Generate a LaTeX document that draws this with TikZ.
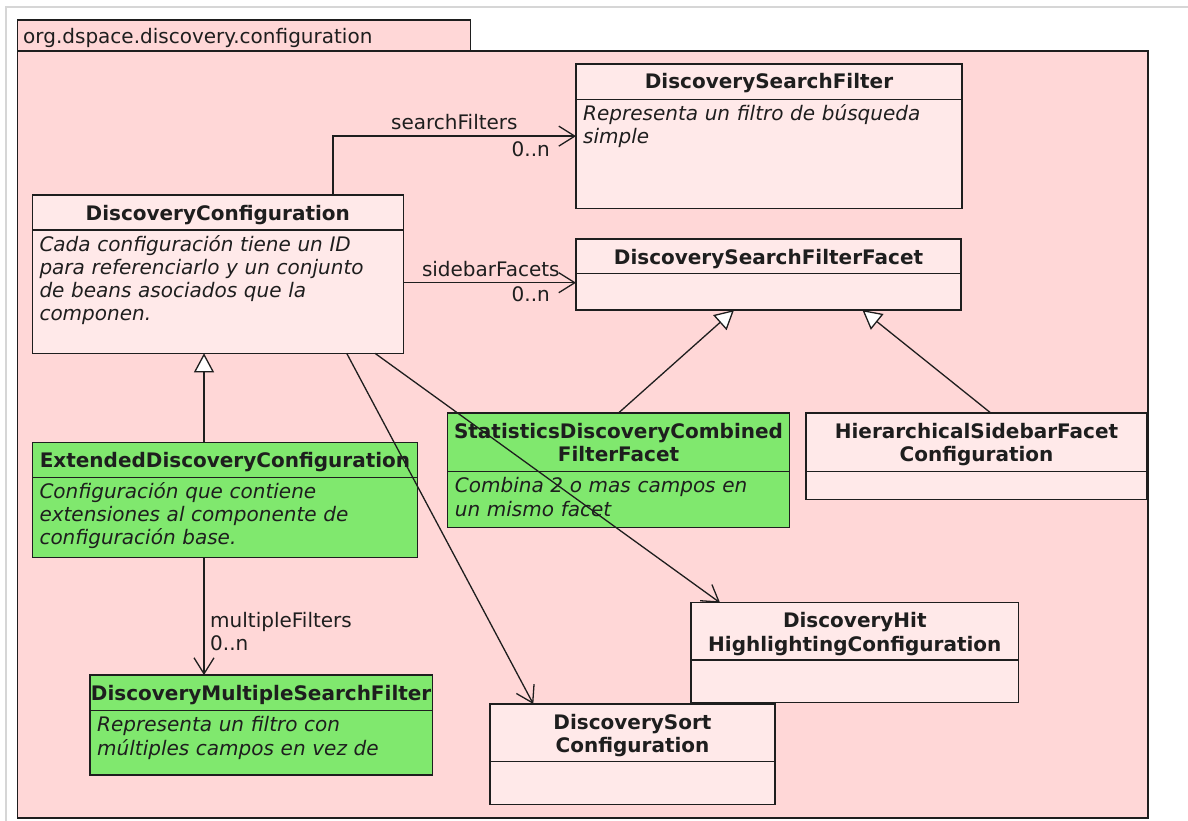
\documentclass[tikz,border=0pt]{standalone}
\usepackage{fontspec}
\setmainfont{DejaVu Sans}
\usetikzlibrary{arrows.meta}

\definecolor{pkgfill}{RGB}{255,215,215}
\definecolor{clsfill}{RGB}{255,233,233}
\definecolor{extfill}{RGB}{128,232,110}
\definecolor{ink}{RGB}{30,30,30}
\definecolor{framegray}{RGB}{214,214,214}

\tikzset{
  boxline/.style={draw=ink, line width=1.4pt},
  classbox/.style={boxline, rectangle, anchor=north west, inner sep=0pt, outer sep=0pt},
  titletext/.style={anchor=base, inner sep=0pt, align=center, text=ink,
    font=\fontsize{20}{23.3}\selectfont\bfseries},
  bodytext/.style={anchor=base west, inner sep=0pt, align=left, text=ink,
    font=\fontsize{20}{23.3}\selectfont\itshape},
  roletext/.style={inner sep=0pt, text=ink, font=\fontsize{20}{23.3}\selectfont},
  assoc/.style={draw=ink, line width=1.3pt, -{Straight Barb[length=16pt,width=20pt]}},
  generalize/.style={draw=ink, line width=1.3pt, -{Triangle[length=19pt,width=20pt,fill=white]}},
}

% UML class: name, x1, y1, x2, y2, separator y, fill, title, body
\newcommand\umlclass[9]{%
  \node[classbox, fill=#7, minimum width={#4-#2}, minimum height={#5-#3}] (#1) at (#2,#3) {};
  \draw[boxline] (#2,#6) -- (#4,#6);
  \node[titletext, text width={#4-#2+30}] (#1-title) at ({(#2+#4)/2},#3+25) {#8};
  \if\relax\detokenize{#9}\relax\else
    \node[bodytext, text width={#4-#2}] (#1-body) at (#2+7,#6+21) {#9};
  \fi
}

\begin{document}
\begin{tikzpicture}[x=1pt,y=-1pt]
  \useasboundingbox (0,0) rectangle (1188,821);
  \fill[white] (0,0) rectangle (1188,821);

  % window frame
  \draw[framegray, line width=1.2pt] (6,821) -- (6,7) -- (1188,7);

  % package
  \draw[boxline, fill=pkgfill] (17.5,20) rectangle (470.5,51);
  \draw[boxline, fill=pkgfill] (17.5,51) rectangle (1148,818);
  \node[roletext, anchor=base west] (pkgname) at (23,43.3) {org.dspace.discovery.configuration};

  % classes
  \umlclass{dsf}{576}{64}{962}{208.3}{99.3}{clsfill}{DiscoverySearchFilter}
    {Representa un filtro de búsqueda\\simple}
  \umlclass{dc}{32.3}{195}{403.3}{353.3}{230}{clsfill}{DiscoveryConfiguration}
    {Cada configuración tiene un ID\\para referenciarlo y un conjunto\\de beans asociados que la\\componen.}
  \umlclass{dsff}{576}{239}{961}{310}{273.3}{clsfill}{DiscoverySearchFilterFacet}{}
  \umlclass{stat}{447.7}{413}{789.3}{527.7}{471.7}{extfill}{StatisticsDiscoveryCombined\\FilterFacet}
    {Combina 2 o mas campos en\\un mismo facet}
  \umlclass{hier}{806}{413}{1147}{499.3}{471.7}{clsfill}{HierarchicalSidebarFacet\\Configuration}{}
  \umlclass{ext}{32.3}{442.7}{417.7}{557.3}{477.3}{extfill}{ExtendedDiscoveryConfiguration}
    {Configuración que contiene\\extensiones al componente de\\configuración base.}
  \umlclass{multi}{90}{675}{432.3}{775}{710.7}{extfill}{DiscoveryMultipleSearchFilter}
    {Representa un filtro con\\múltiples campos en vez de}
  \umlclass{hit}{691}{602.7}{1018.6}{702.7}{660}{clsfill}{DiscoveryHit\\HighlightingConfiguration}{}
  \umlclass{sort}{490}{704}{775}{804.3}{761.7}{clsfill}{DiscoverySort\\Configuration}{}

  % helper points for orthogonal connectors
  \coordinate (sbf) at ([yshift=-8.2pt]dsff.west);
  \coordinate (extup) at ([xshift=171.7pt]ext.north west);
  \coordinate (extdown) at ([xshift=171.7pt]ext.south west);

  % associations
  \draw[assoc] ([xshift=300.7pt]dc.north west) |- (dsf.west);
  \draw[assoc] (sbf -| dc.east) -- (sbf);
  \draw[assoc] (extdown) -- (extdown |- multi.north);
  \draw[assoc] ([xshift=314.4pt]dc.south west) -- ([xshift=43.3pt]sort.north west);
  \draw[assoc] ([xshift=342.7pt]dc.south west) -- ([xshift=29pt]hit.north west);

  % generalizations
  \draw[generalize] (stat.north) -- ([xshift=158pt]dsff.south west);
  \draw[generalize] ([xshift=184.8pt]hier.north west) -- ([xshift=286.4pt]dsff.south west);
  \draw[generalize] (extup) -- (extup |- dc.south);

  % role names and multiplicities
  \node[roletext, anchor=base west] (lblsf) at (391,130) {searchFilters};
  \node[roletext, anchor=base east] (lblsfm) at (550,156.7) {0..n};
  \node[roletext, anchor=base west] (lblsb) at (421.8,276.7) {sidebarFacets};
  \node[roletext, anchor=base east] (lblsbm) at (550,301.7) {0..n};
  \node[roletext, anchor=base west] (lblmf) at (210,627.3) {multipleFilters};
  \node[roletext, anchor=base west] (lblmfm) at (210,650.7) {0..n};
\end{tikzpicture}
\end{document}
